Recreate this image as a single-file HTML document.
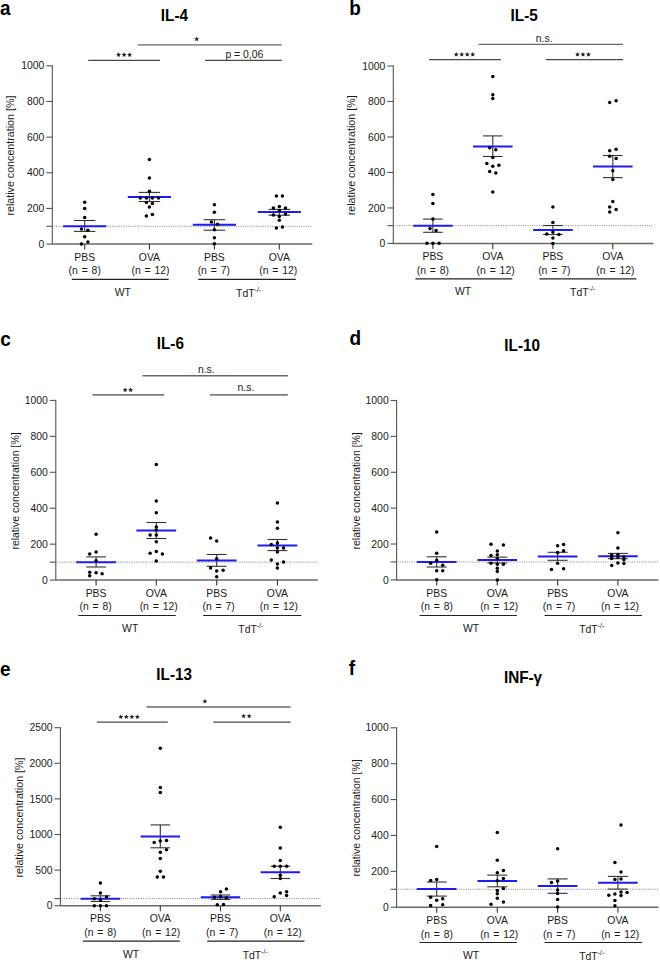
<!DOCTYPE html>
<html><head><meta charset="utf-8"><style>
html,body{margin:0;padding:0;background:#fff;}
body{width:660px;height:962px;overflow:hidden;}
svg{display:block;}
text{font-family:"Liberation Sans", sans-serif;fill:#1a1a1a;}
.let{font-size:19px;font-weight:bold;fill:#000;}
.tit{font-size:15.3px;font-weight:bold;fill:#000;}
.tk text{font-size:10.4px;}
.lb,.lb text{font-size:10.4px;}

.nn{font-size:10.4px;word-spacing:1px;}
</style></head><body>
<svg width="660" height="962" viewBox="0 0 660 962">
<rect width="660" height="962" fill="#fff"/>
<text class="let" transform="translate(0.09999999999999998,15.2) scale(1,1.09)">a</text>
<text class="tit" transform="translate(174.4,20.5) scale(1,1.03)" text-anchor="middle">IL-4</text>
<g stroke="#555555" stroke-width="1.1" fill="none">
<line x1="52.3" y1="65.3" x2="52.3" y2="244.1"/>
<line x1="51.8" y1="244.1" x2="312.3" y2="244.1" stroke-width="1.5" stroke="#6a6a6a"/>
<line x1="46.3" y1="244.10" x2="52.3" y2="244.10"/>
<line x1="46.3" y1="208.44" x2="52.3" y2="208.44"/>
<line x1="46.3" y1="172.78" x2="52.3" y2="172.78"/>
<line x1="46.3" y1="137.12" x2="52.3" y2="137.12"/>
<line x1="46.3" y1="101.46" x2="52.3" y2="101.46"/>
<line x1="46.3" y1="65.80" x2="52.3" y2="65.80"/>
<line x1="46.3" y1="226.27" x2="52.3" y2="226.27"/>
<line x1="84.7" y1="244.1" x2="84.7" y2="249.6" stroke="#333"/>
<line x1="149.4" y1="244.1" x2="149.4" y2="249.6" stroke="#333"/>
<line x1="214.4" y1="244.1" x2="214.4" y2="249.6" stroke="#333"/>
<line x1="279.3" y1="244.1" x2="279.3" y2="249.6" stroke="#333"/>
</g>
<g class="tk">
<text x="44.4" y="247.70" text-anchor="end">0</text>
<text x="44.4" y="212.04" text-anchor="end">200</text>
<text x="44.4" y="176.38" text-anchor="end">400</text>
<text x="44.4" y="140.72" text-anchor="end">600</text>
<text x="44.4" y="105.06" text-anchor="end">800</text>
<text x="44.4" y="69.40" text-anchor="end">1000</text>
</g>
<line x1="53.8" y1="226.27" x2="312.3" y2="226.27" stroke="#777" stroke-width="0.9" stroke-dasharray="1 1.25"/>
<text class="yl" font-size="10.7" transform="translate(13.9,155.6) rotate(-90)" text-anchor="middle">relative concentration [%]</text>
<g stroke="#333333" stroke-width="1.1"><line x1="84.7" y1="220.5" x2="84.7" y2="231.4"/><line x1="74.0" y1="220.5" x2="95.4" y2="220.5"/><line x1="74.0" y1="231.4" x2="95.4" y2="231.4"/></g>
<line x1="63.1" y1="226.3" x2="106.30000000000001" y2="226.3" stroke="#1c1cf5" stroke-width="2"/>
<g fill="#000"><circle cx="84.7" cy="202.2" r="1.75"/><circle cx="84.7" cy="208.6" r="1.75"/><circle cx="84.7" cy="217.4" r="1.75"/><circle cx="81.5" cy="229" r="1.75"/><circle cx="87.9" cy="230.3" r="1.75"/><circle cx="84.7" cy="236.7" r="1.75"/><circle cx="87.9" cy="242" r="1.75"/><circle cx="81.5" cy="244.1" r="1.75"/></g>
<g stroke="#333333" stroke-width="1.1"><line x1="149.4" y1="192.4" x2="149.4" y2="201.5"/><line x1="138.70000000000002" y1="192.4" x2="160.1" y2="192.4"/><line x1="138.70000000000002" y1="201.5" x2="160.1" y2="201.5"/></g>
<line x1="127.80000000000001" y1="197" x2="171.0" y2="197" stroke="#1c1cf5" stroke-width="2"/>
<g fill="#000"><circle cx="149.4" cy="159.4" r="1.75"/><circle cx="149.4" cy="177.9" r="1.75"/><circle cx="149.4" cy="191.2" r="1.75"/><circle cx="140.3" cy="197.9" r="1.75"/><circle cx="146.4" cy="197.9" r="1.75"/><circle cx="152.4" cy="197.9" r="1.75"/><circle cx="158.5" cy="197.9" r="1.75"/><circle cx="146.4" cy="202.4" r="1.75"/><circle cx="152.4" cy="203.6" r="1.75"/><circle cx="149.4" cy="206.9" r="1.75"/><circle cx="146.4" cy="216.1" r="1.75"/><circle cx="152.4" cy="214.4" r="1.75"/></g>
<g stroke="#333333" stroke-width="1.1"><line x1="214.4" y1="219.7" x2="214.4" y2="230.2"/><line x1="203.70000000000002" y1="219.7" x2="225.1" y2="219.7"/><line x1="203.70000000000002" y1="230.2" x2="225.1" y2="230.2"/></g>
<line x1="192.8" y1="224.8" x2="236.0" y2="224.8" stroke="#1c1cf5" stroke-width="2"/>
<g fill="#000"><circle cx="214.4" cy="204.8" r="1.75"/><circle cx="214.4" cy="212.3" r="1.75"/><circle cx="211.4" cy="222" r="1.75"/><circle cx="217.5" cy="224.3" r="1.75"/><circle cx="214.4" cy="229.7" r="1.75"/><circle cx="214.4" cy="237.7" r="1.75"/><circle cx="214.4" cy="243.8" r="1.75"/></g>
<g stroke="#333333" stroke-width="1.1"><line x1="279.3" y1="209.4" x2="279.3" y2="215.2"/><line x1="268.6" y1="209.4" x2="290.0" y2="209.4"/><line x1="268.6" y1="215.2" x2="290.0" y2="215.2"/></g>
<line x1="257.7" y1="212.1" x2="300.90000000000003" y2="212.1" stroke="#1c1cf5" stroke-width="2"/>
<g fill="#000"><circle cx="276.4" cy="196.1" r="1.75"/><circle cx="282.4" cy="196.1" r="1.75"/><circle cx="273.4" cy="207.9" r="1.75"/><circle cx="279.3" cy="206.5" r="1.75"/><circle cx="285.5" cy="207.9" r="1.75"/><circle cx="279.3" cy="210.6" r="1.75"/><circle cx="273.4" cy="215" r="1.75"/><circle cx="285.5" cy="213.9" r="1.75"/><circle cx="279.3" cy="216.4" r="1.75"/><circle cx="279.3" cy="220.3" r="1.75"/><circle cx="276.4" cy="227.9" r="1.75"/><circle cx="282.4" cy="227" r="1.75"/></g>
<g class="lb" text-anchor="middle">
<text x="84.7" y="260.7">PBS</text><text class="nn" x="84.7" y="274.4">(n = 8)</text>
<text x="149.4" y="260.7">OVA</text><text class="nn" x="150.5" y="274.4">(n = 12)</text>
<text x="214.4" y="260.7">PBS</text><text class="nn" x="213.8" y="274.4">(n = 7)</text>
<text x="279.3" y="260.7">OVA</text><text class="nn" x="278.3" y="274.4">(n = 12)</text>
</g>
<line x1="71.8" y1="279.3" x2="168.7" y2="279.3" stroke="#222" stroke-width="1.2"/>
<line x1="198.2" y1="279.3" x2="295.8" y2="279.3" stroke="#222" stroke-width="1.2"/>
<text class="lb" style="font-size:10.4px" x="114.7" y="295.7">WT</text>
<text class="lb" style="font-size:10.4px" x="236.1" y="296.8">TdT<tspan font-size="7" dy="-5">-/-</tspan></text>
<line x1="88.2" y1="60.4" x2="160" y2="60.4" stroke="#4a4a4a" stroke-width="1.2"/>
<g fill="#222"><polygon points="118.60,52.20 119.29,53.85 121.07,54.00 119.71,55.16 120.13,56.90 118.60,55.97 117.07,56.90 117.49,55.16 116.13,54.00 117.91,53.85"/><polygon points="124.10,52.20 124.79,53.85 126.57,54.00 125.21,55.16 125.63,56.90 124.10,55.97 122.57,56.90 122.99,55.16 121.63,54.00 123.41,53.85"/><polygon points="129.60,52.20 130.29,53.85 132.07,54.00 130.71,55.16 131.13,56.90 129.60,55.97 128.07,56.90 128.49,55.16 127.13,54.00 128.91,53.85"/></g>
<line x1="205.1" y1="60.4" x2="281.8" y2="60.4" stroke="#4a4a4a" stroke-width="1.2"/>
<text class="lb" x="244.3" y="57.6" text-anchor="middle">p = 0,06</text>
<line x1="137.8" y1="44.9" x2="281.8" y2="44.9" stroke="#6a6a6a" stroke-width="1.4"/>
<g fill="#222"><polygon points="196.70,36.50 197.39,38.15 199.17,38.30 197.81,39.46 198.23,41.20 196.70,40.27 195.17,41.20 195.59,39.46 194.23,38.30 196.01,38.15"/></g>
<text class="let" transform="translate(349.2,15.399999999999999) scale(1,1.09)">b</text>
<text class="tit" transform="translate(524.2,20.6) scale(1,1.03)" text-anchor="middle">IL-5</text>
<g stroke="#555555" stroke-width="1.1" fill="none">
<line x1="393.3" y1="65.5" x2="393.3" y2="243.4"/>
<line x1="392.8" y1="243.4" x2="653.3" y2="243.4" stroke-width="1.5" stroke="#6a6a6a"/>
<line x1="387.3" y1="243.40" x2="393.3" y2="243.40"/>
<line x1="387.3" y1="207.92" x2="393.3" y2="207.92"/>
<line x1="387.3" y1="172.44" x2="393.3" y2="172.44"/>
<line x1="387.3" y1="136.96" x2="393.3" y2="136.96"/>
<line x1="387.3" y1="101.48" x2="393.3" y2="101.48"/>
<line x1="387.3" y1="66.00" x2="393.3" y2="66.00"/>
<line x1="387.3" y1="225.66" x2="393.3" y2="225.66"/>
<line x1="432.9" y1="243.4" x2="432.9" y2="248.9" stroke="#333"/>
<line x1="492.8" y1="243.4" x2="492.8" y2="248.9" stroke="#333"/>
<line x1="552.9" y1="243.4" x2="552.9" y2="248.9" stroke="#333"/>
<line x1="612.8" y1="243.4" x2="612.8" y2="248.9" stroke="#333"/>
</g>
<g class="tk">
<text x="385.4" y="247.00" text-anchor="end">0</text>
<text x="385.4" y="211.52" text-anchor="end">200</text>
<text x="385.4" y="176.04" text-anchor="end">400</text>
<text x="385.4" y="140.56" text-anchor="end">600</text>
<text x="385.4" y="105.08" text-anchor="end">800</text>
<text x="385.4" y="69.60" text-anchor="end">1000</text>
</g>
<line x1="394.8" y1="225.66" x2="653.3" y2="225.66" stroke="#777" stroke-width="0.9" stroke-dasharray="1 1.25"/>
<text class="yl" font-size="10.7" transform="translate(355.0,155.35) rotate(-90)" text-anchor="middle">relative concentration [%]</text>
<g stroke="#333333" stroke-width="1.1"><line x1="432.9" y1="219.1" x2="432.9" y2="232.3"/><line x1="423.09999999999997" y1="219.1" x2="442.7" y2="219.1"/><line x1="423.09999999999997" y1="232.3" x2="442.7" y2="232.3"/></g>
<line x1="413.09999999999997" y1="225.8" x2="452.7" y2="225.8" stroke="#1c1cf5" stroke-width="2"/>
<g fill="#000"><circle cx="432.9" cy="194.4" r="1.75"/><circle cx="432.9" cy="203.5" r="1.75"/><circle cx="432.9" cy="219.1" r="1.75"/><circle cx="430" cy="228.5" r="1.75"/><circle cx="436.1" cy="230.5" r="1.75"/><circle cx="427" cy="243.3" r="1.75"/><circle cx="432.9" cy="243.3" r="1.75"/><circle cx="439.1" cy="243.3" r="1.75"/></g>
<g stroke="#333333" stroke-width="1.1"><line x1="492.8" y1="135.9" x2="492.8" y2="156.5"/><line x1="483.0" y1="135.9" x2="502.6" y2="135.9"/><line x1="483.0" y1="156.5" x2="502.6" y2="156.5"/></g>
<line x1="473.0" y1="146.4" x2="512.6" y2="146.4" stroke="#1c1cf5" stroke-width="2"/>
<g fill="#000"><circle cx="492.8" cy="76.4" r="1.75"/><circle cx="492.8" cy="94.7" r="1.75"/><circle cx="492.8" cy="98.6" r="1.75"/><circle cx="489.7" cy="147.7" r="1.75"/><circle cx="495.8" cy="149.7" r="1.75"/><circle cx="492.8" cy="157.6" r="1.75"/><circle cx="486.8" cy="163.6" r="1.75"/><circle cx="492.8" cy="166.2" r="1.75"/><circle cx="498.9" cy="165.3" r="1.75"/><circle cx="489.7" cy="171.4" r="1.75"/><circle cx="495.8" cy="173" r="1.75"/><circle cx="492.8" cy="191.9" r="1.75"/></g>
<g stroke="#333333" stroke-width="1.1"><line x1="552.9" y1="225.5" x2="552.9" y2="234.5"/><line x1="543.1" y1="225.5" x2="562.6999999999999" y2="225.5"/><line x1="543.1" y1="234.5" x2="562.6999999999999" y2="234.5"/></g>
<line x1="533.1" y1="230" x2="572.6999999999999" y2="230" stroke="#1c1cf5" stroke-width="2"/>
<g fill="#000"><circle cx="552.9" cy="207" r="1.75"/><circle cx="552.9" cy="222.5" r="1.75"/><circle cx="552.9" cy="232" r="1.75"/><circle cx="546.8" cy="234.1" r="1.75"/><circle cx="558.9" cy="234.4" r="1.75"/><circle cx="552.9" cy="237.9" r="1.75"/><circle cx="552.9" cy="243.6" r="1.75"/></g>
<g stroke="#333333" stroke-width="1.1"><line x1="612.8" y1="155.5" x2="612.8" y2="177.6"/><line x1="603.0" y1="155.5" x2="622.5999999999999" y2="155.5"/><line x1="603.0" y1="177.6" x2="622.5999999999999" y2="177.6"/></g>
<line x1="593.0" y1="166.6" x2="632.5999999999999" y2="166.6" stroke="#1c1cf5" stroke-width="2"/>
<g fill="#000"><circle cx="609.7" cy="102.6" r="1.75"/><circle cx="616.1" cy="100.8" r="1.75"/><circle cx="609.7" cy="150.8" r="1.75"/><circle cx="616.1" cy="149.2" r="1.75"/><circle cx="609.7" cy="156.2" r="1.75"/><circle cx="616.1" cy="158.6" r="1.75"/><circle cx="612.8" cy="170.8" r="1.75"/><circle cx="612.8" cy="179.5" r="1.75"/><circle cx="612.8" cy="201.5" r="1.75"/><circle cx="609.7" cy="206.9" r="1.75"/><circle cx="616.1" cy="209.6" r="1.75"/><circle cx="609.7" cy="212" r="1.75"/></g>
<g class="lb" text-anchor="middle">
<text x="432.9" y="260.0">PBS</text><text class="nn" x="432.9" y="273.7">(n = 8)</text>
<text x="492.8" y="260.0">OVA</text><text class="nn" x="495.6" y="273.7">(n = 12)</text>
<text x="552.9" y="260.0">PBS</text><text class="nn" x="554.3" y="273.7">(n = 7)</text>
<text x="612.8" y="260.0">OVA</text><text class="nn" x="615.4" y="273.7">(n = 12)</text>
</g>
<line x1="415.4" y1="278.8" x2="512.3" y2="278.8" stroke="#222" stroke-width="1.2"/>
<line x1="539.5" y1="278.8" x2="636.4" y2="278.8" stroke="#222" stroke-width="1.2"/>
<text class="lb" style="font-size:10.4px" x="454.9" y="295.2">WT</text>
<text class="lb" style="font-size:10.4px" x="570.1" y="296.3">TdT<tspan font-size="7" dy="-5">-/-</tspan></text>
<line x1="429.1" y1="59.6" x2="500.9" y2="59.6" stroke="#4a4a4a" stroke-width="1.2"/>
<g fill="#222"><polygon points="456.25,51.90 456.94,53.55 458.72,53.70 457.36,54.86 457.78,56.60 456.25,55.67 454.72,56.60 455.14,54.86 453.78,53.70 455.56,53.55"/><polygon points="461.75,51.90 462.44,53.55 464.22,53.70 462.86,54.86 463.28,56.60 461.75,55.67 460.22,56.60 460.64,54.86 459.28,53.70 461.06,53.55"/><polygon points="467.25,51.90 467.94,53.55 469.72,53.70 468.36,54.86 468.78,56.60 467.25,55.67 465.72,56.60 466.14,54.86 464.78,53.70 466.56,53.55"/><polygon points="472.75,51.90 473.44,53.55 475.22,53.70 473.86,54.86 474.28,56.60 472.75,55.67 471.22,56.60 471.64,54.86 470.28,53.70 472.06,53.55"/></g>
<line x1="545.8" y1="59.6" x2="623.1" y2="59.6" stroke="#4a4a4a" stroke-width="1.2"/>
<g fill="#222"><polygon points="577.50,51.90 578.19,53.55 579.97,53.70 578.61,54.86 579.03,56.60 577.50,55.67 575.97,56.60 576.39,54.86 575.03,53.70 576.81,53.55"/><polygon points="583.00,51.90 583.69,53.55 585.47,53.70 584.11,54.86 584.53,56.60 583.00,55.67 581.47,56.60 581.89,54.86 580.53,53.70 582.31,53.55"/><polygon points="588.50,51.90 589.19,53.55 590.97,53.70 589.61,54.86 590.03,56.60 588.50,55.67 586.97,56.60 587.39,54.86 586.03,53.70 587.81,53.55"/></g>
<line x1="478.7" y1="44.4" x2="623.1" y2="44.4" stroke="#6a6a6a" stroke-width="1.4"/>
<text class="lb" x="544.2" y="42" text-anchor="middle">n.s.</text>
<text class="let" transform="translate(0.19999999999999996,345.9) scale(1,1.09)">c</text>
<text class="tit" transform="translate(170.3,348.7) scale(1,1.03)" text-anchor="middle">IL-6</text>
<g stroke="#555555" stroke-width="1.1" fill="none">
<line x1="55.8" y1="399.9" x2="55.8" y2="580.1"/>
<line x1="55.3" y1="580.1" x2="317.8" y2="580.1" stroke-width="1.5" stroke="#6a6a6a"/>
<line x1="49.8" y1="580.10" x2="55.8" y2="580.10"/>
<line x1="49.8" y1="544.16" x2="55.8" y2="544.16"/>
<line x1="49.8" y1="508.22" x2="55.8" y2="508.22"/>
<line x1="49.8" y1="472.28" x2="55.8" y2="472.28"/>
<line x1="49.8" y1="436.34" x2="55.8" y2="436.34"/>
<line x1="49.8" y1="400.40" x2="55.8" y2="400.40"/>
<line x1="49.8" y1="562.13" x2="55.8" y2="562.13"/>
<line x1="96.1" y1="580.1" x2="96.1" y2="585.6" stroke="#333"/>
<line x1="156.3" y1="580.1" x2="156.3" y2="585.6" stroke="#333"/>
<line x1="216.7" y1="580.1" x2="216.7" y2="585.6" stroke="#333"/>
<line x1="277.4" y1="580.1" x2="277.4" y2="585.6" stroke="#333"/>
</g>
<g class="tk">
<text x="47.9" y="583.70" text-anchor="end">0</text>
<text x="47.9" y="547.76" text-anchor="end">200</text>
<text x="47.9" y="511.82" text-anchor="end">400</text>
<text x="47.9" y="475.88" text-anchor="end">600</text>
<text x="47.9" y="439.94" text-anchor="end">800</text>
<text x="47.9" y="404.00" text-anchor="end">1000</text>
</g>
<line x1="57.3" y1="562.13" x2="317.8" y2="562.13" stroke="#777" stroke-width="0.9" stroke-dasharray="1 1.25"/>
<text class="yl" font-size="10.45" transform="translate(18.6,490.95) rotate(-90)" text-anchor="middle">relative concentration [%]</text>
<g stroke="#333333" stroke-width="1.1"><line x1="96.1" y1="556.9" x2="96.1" y2="567"/><line x1="86.19999999999999" y1="556.9" x2="106.0" y2="556.9"/><line x1="86.19999999999999" y1="567" x2="106.0" y2="567"/></g>
<line x1="76.19999999999999" y1="562.2" x2="116.0" y2="562.2" stroke="#1c1cf5" stroke-width="2"/>
<g fill="#000"><circle cx="96.1" cy="534.3" r="1.75"/><circle cx="89.7" cy="554.1" r="1.75"/><circle cx="96.1" cy="552" r="1.75"/><circle cx="96.1" cy="560.8" r="1.75"/><circle cx="89.7" cy="572.3" r="1.75"/><circle cx="96.1" cy="572.8" r="1.75"/><circle cx="102.1" cy="573.8" r="1.75"/><circle cx="89.7" cy="575.7" r="1.75"/></g>
<g stroke="#333333" stroke-width="1.1"><line x1="156.3" y1="522.5" x2="156.3" y2="538.5"/><line x1="146.4" y1="522.5" x2="166.20000000000002" y2="522.5"/><line x1="146.4" y1="538.5" x2="166.20000000000002" y2="538.5"/></g>
<line x1="136.4" y1="530.5" x2="176.20000000000002" y2="530.5" stroke="#1c1cf5" stroke-width="2"/>
<g fill="#000"><circle cx="156.3" cy="464.4" r="1.75"/><circle cx="156.3" cy="501" r="1.75"/><circle cx="156.3" cy="512.7" r="1.75"/><circle cx="156.3" cy="526.9" r="1.75"/><circle cx="156.3" cy="529.9" r="1.75"/><circle cx="150.1" cy="535" r="1.75"/><circle cx="156.3" cy="535" r="1.75"/><circle cx="156.3" cy="541.7" r="1.75"/><circle cx="150.1" cy="553.3" r="1.75"/><circle cx="156.3" cy="551.4" r="1.75"/><circle cx="162.4" cy="554.1" r="1.75"/><circle cx="156.3" cy="561.1" r="1.75"/></g>
<g stroke="#333333" stroke-width="1.1"><line x1="216.7" y1="554.5" x2="216.7" y2="566.3"/><line x1="206.79999999999998" y1="554.5" x2="226.6" y2="554.5"/><line x1="206.79999999999998" y1="566.3" x2="226.6" y2="566.3"/></g>
<line x1="196.79999999999998" y1="560.4" x2="236.6" y2="560.4" stroke="#1c1cf5" stroke-width="2"/>
<g fill="#000"><circle cx="210.6" cy="538" r="1.75"/><circle cx="216.7" cy="541" r="1.75"/><circle cx="216.7" cy="558.7" r="1.75"/><circle cx="210.6" cy="568.1" r="1.75"/><circle cx="216.7" cy="570.9" r="1.75"/><circle cx="223.1" cy="570.2" r="1.75"/><circle cx="216.7" cy="576.8" r="1.75"/></g>
<g stroke="#333333" stroke-width="1.1"><line x1="277.4" y1="539.5" x2="277.4" y2="550.6"/><line x1="267.5" y1="539.5" x2="287.29999999999995" y2="539.5"/><line x1="267.5" y1="550.6" x2="287.29999999999995" y2="550.6"/></g>
<line x1="257.5" y1="545.4" x2="297.29999999999995" y2="545.4" stroke="#1c1cf5" stroke-width="2"/>
<g fill="#000"><circle cx="277.4" cy="502.9" r="1.75"/><circle cx="277.4" cy="522.1" r="1.75"/><circle cx="277.4" cy="528.3" r="1.75"/><circle cx="277.4" cy="543.1" r="1.75"/><circle cx="271.3" cy="544.6" r="1.75"/><circle cx="277.4" cy="548" r="1.75"/><circle cx="283.5" cy="548" r="1.75"/><circle cx="277.4" cy="552" r="1.75"/><circle cx="271.3" cy="560" r="1.75"/><circle cx="283.5" cy="562" r="1.75"/><circle cx="277.4" cy="564" r="1.75"/><circle cx="277.4" cy="568.1" r="1.75"/></g>
<g class="lb" text-anchor="middle">
<text x="96.1" y="596.7">PBS</text><text class="nn" x="95.6" y="610.4">(n = 8)</text>
<text x="156.3" y="596.7">OVA</text><text class="nn" x="158.7" y="610.4">(n = 12)</text>
<text x="216.7" y="596.7">PBS</text><text class="nn" x="218.6" y="610.4">(n = 7)</text>
<text x="277.4" y="596.7">OVA</text><text class="nn" x="278.9" y="610.4">(n = 12)</text>
</g>
<line x1="78.2" y1="615.5" x2="175.8" y2="615.5" stroke="#222" stroke-width="1.2"/>
<line x1="203.2" y1="615.5" x2="301.4" y2="615.5" stroke="#222" stroke-width="1.2"/>
<text class="lb" style="font-size:10.4px" x="122.10000000000001" y="631.9">WT</text>
<text class="lb" style="font-size:10.4px" x="238.29999999999998" y="633.0">TdT<tspan font-size="7" dy="-5">-/-</tspan></text>
<line x1="92.4" y1="394.9" x2="164" y2="394.9" stroke="#4a4a4a" stroke-width="1.2"/>
<g fill="#222"><polygon points="125.15,387.40 125.84,389.05 127.62,389.20 126.26,390.36 126.68,392.10 125.15,391.17 123.62,392.10 124.04,390.36 122.68,389.20 124.46,389.05"/><polygon points="130.65,387.40 131.34,389.05 133.12,389.20 131.76,390.36 132.18,392.10 130.65,391.17 129.12,392.10 129.54,390.36 128.18,389.20 129.96,389.05"/></g>
<line x1="210" y1="394.9" x2="287.8" y2="394.9" stroke="#4a4a4a" stroke-width="1.2"/>
<text class="lb" x="245.9" y="390.9" text-anchor="middle">n.s.</text>
<line x1="142.4" y1="375.8" x2="287.8" y2="375.8" stroke="#6a6a6a" stroke-width="1.4"/>
<text class="lb" x="206.3" y="373.2" text-anchor="middle">n.s.</text>
<text class="let" transform="translate(349.4,345.4) scale(1,1.09)">d</text>
<text class="tit" transform="translate(522.2,350.6) scale(1,1.03)" text-anchor="middle">IL-10</text>
<g stroke="#555555" stroke-width="1.1" fill="none">
<line x1="396.6" y1="400.0" x2="396.6" y2="579.9"/>
<line x1="396.1" y1="579.9" x2="658.4" y2="579.9" stroke-width="1.5" stroke="#6a6a6a"/>
<line x1="390.6" y1="579.90" x2="396.6" y2="579.90"/>
<line x1="390.6" y1="544.02" x2="396.6" y2="544.02"/>
<line x1="390.6" y1="508.14" x2="396.6" y2="508.14"/>
<line x1="390.6" y1="472.26" x2="396.6" y2="472.26"/>
<line x1="390.6" y1="436.38" x2="396.6" y2="436.38"/>
<line x1="390.6" y1="400.50" x2="396.6" y2="400.50"/>
<line x1="390.6" y1="561.96" x2="396.6" y2="561.96"/>
<line x1="436.7" y1="579.9" x2="436.7" y2="585.4" stroke="#333"/>
<line x1="497.3" y1="579.9" x2="497.3" y2="585.4" stroke="#333"/>
<line x1="557.6" y1="579.9" x2="557.6" y2="585.4" stroke="#333"/>
<line x1="617.9" y1="579.9" x2="617.9" y2="585.4" stroke="#333"/>
</g>
<g class="tk">
<text x="388.7" y="583.50" text-anchor="end">0</text>
<text x="388.7" y="547.62" text-anchor="end">200</text>
<text x="388.7" y="511.74" text-anchor="end">400</text>
<text x="388.7" y="475.86" text-anchor="end">600</text>
<text x="388.7" y="439.98" text-anchor="end">800</text>
<text x="388.7" y="404.10" text-anchor="end">1000</text>
</g>
<line x1="398.1" y1="561.96" x2="658.4" y2="561.96" stroke="#777" stroke-width="0.9" stroke-dasharray="1 1.25"/>
<text class="yl" font-size="10.45" transform="translate(359.8,490.85) rotate(-90)" text-anchor="middle">relative concentration [%]</text>
<g stroke="#333333" stroke-width="1.1"><line x1="436.7" y1="556.8" x2="436.7" y2="567"/><line x1="426.7" y1="556.8" x2="446.7" y2="556.8"/><line x1="426.7" y1="567" x2="446.7" y2="567"/></g>
<line x1="416.9" y1="562" x2="456.5" y2="562" stroke="#1c1cf5" stroke-width="2"/>
<g fill="#000"><circle cx="436.7" cy="532.1" r="1.75"/><circle cx="436.7" cy="553.3" r="1.75"/><circle cx="436.7" cy="560.2" r="1.75"/><circle cx="430.6" cy="563.2" r="1.75"/><circle cx="442.7" cy="565.2" r="1.75"/><circle cx="436.7" cy="570.8" r="1.75"/><circle cx="442.7" cy="570.8" r="1.75"/><circle cx="436.7" cy="579.8" r="1.75"/></g>
<g stroke="#333333" stroke-width="1.1"><line x1="497.3" y1="557.1" x2="497.3" y2="562.9"/><line x1="487.3" y1="557.1" x2="507.3" y2="557.1"/><line x1="487.3" y1="562.9" x2="507.3" y2="562.9"/></g>
<line x1="477.5" y1="560" x2="517.1" y2="560" stroke="#1c1cf5" stroke-width="2"/>
<g fill="#000"><circle cx="491" cy="544.2" r="1.75"/><circle cx="503.4" cy="545.1" r="1.75"/><circle cx="497.3" cy="551" r="1.75"/><circle cx="497.3" cy="554.8" r="1.75"/><circle cx="491" cy="555.5" r="1.75"/><circle cx="497.3" cy="558.4" r="1.75"/><circle cx="491" cy="563.3" r="1.75"/><circle cx="497.3" cy="564.3" r="1.75"/><circle cx="503.4" cy="564.3" r="1.75"/><circle cx="497.3" cy="568.2" r="1.75"/><circle cx="497.3" cy="571.6" r="1.75"/><circle cx="497.3" cy="579.9" r="1.75"/></g>
<g stroke="#333333" stroke-width="1.1"><line x1="557.6" y1="552.3" x2="557.6" y2="560.3"/><line x1="547.6" y1="552.3" x2="567.6" y2="552.3"/><line x1="547.6" y1="560.3" x2="567.6" y2="560.3"/></g>
<line x1="537.8000000000001" y1="556.6" x2="577.4" y2="556.6" stroke="#1c1cf5" stroke-width="2"/>
<g fill="#000"><circle cx="557.6" cy="545.8" r="1.75"/><circle cx="563.6" cy="544.6" r="1.75"/><circle cx="563.6" cy="550.8" r="1.75"/><circle cx="557.6" cy="552.6" r="1.75"/><circle cx="557.6" cy="563.3" r="1.75"/><circle cx="551.5" cy="569.6" r="1.75"/><circle cx="563.6" cy="568.8" r="1.75"/></g>
<g stroke="#333333" stroke-width="1.1"><line x1="617.9" y1="553.4" x2="617.9" y2="558.7"/><line x1="607.9" y1="553.4" x2="627.9" y2="553.4"/><line x1="607.9" y1="558.7" x2="627.9" y2="558.7"/></g>
<line x1="598.1" y1="556.3" x2="637.6999999999999" y2="556.3" stroke="#1c1cf5" stroke-width="2"/>
<g fill="#000"><circle cx="617.9" cy="532.7" r="1.75"/><circle cx="617.9" cy="548.1" r="1.75"/><circle cx="611.7" cy="554.8" r="1.75"/><circle cx="617.9" cy="554.5" r="1.75"/><circle cx="611.7" cy="556.6" r="1.75"/><circle cx="617.9" cy="557.1" r="1.75"/><circle cx="623.9" cy="556.9" r="1.75"/><circle cx="611.7" cy="558.4" r="1.75"/><circle cx="623.9" cy="559.8" r="1.75"/><circle cx="617.9" cy="562.9" r="1.75"/><circle cx="623.9" cy="563.5" r="1.75"/><circle cx="611.7" cy="565.6" r="1.75"/></g>
<g class="lb" text-anchor="middle">
<text x="436.7" y="596.5">PBS</text><text class="nn" x="436.9" y="610.2">(n = 8)</text>
<text x="497.3" y="596.5">OVA</text><text class="nn" x="499.2" y="610.2">(n = 12)</text>
<text x="557.6" y="596.5">PBS</text><text class="nn" x="559.0" y="610.2">(n = 7)</text>
<text x="617.9" y="596.5">OVA</text><text class="nn" x="620.0" y="610.2">(n = 12)</text>
</g>
<line x1="419.5" y1="615.5" x2="516.9" y2="615.5" stroke="#222" stroke-width="1.2"/>
<line x1="544.5" y1="615.5" x2="641.9" y2="615.5" stroke="#222" stroke-width="1.2"/>
<text class="lb" style="font-size:10.4px" x="462.9" y="631.9">WT</text>
<text class="lb" style="font-size:10.4px" x="579.2" y="633.0">TdT<tspan font-size="7" dy="-5">-/-</tspan></text>
<text class="let" transform="translate(-0.10000000000000009,676.4000000000001) scale(1,1.09)">e</text>
<text class="tit" transform="translate(174.2,679.6) scale(1,1.03)" text-anchor="middle">IL-13</text>
<g stroke="#555555" stroke-width="1.1" fill="none">
<line x1="60.4" y1="727.2" x2="60.4" y2="905.7"/>
<line x1="59.9" y1="905.7" x2="320.9" y2="905.7" stroke-width="1.5" stroke="#6a6a6a"/>
<line x1="54.4" y1="905.70" x2="60.4" y2="905.70"/>
<line x1="54.4" y1="870.10" x2="60.4" y2="870.10"/>
<line x1="54.4" y1="834.50" x2="60.4" y2="834.50"/>
<line x1="54.4" y1="798.90" x2="60.4" y2="798.90"/>
<line x1="54.4" y1="763.30" x2="60.4" y2="763.30"/>
<line x1="54.4" y1="727.70" x2="60.4" y2="727.70"/>
<line x1="54.4" y1="898.58" x2="60.4" y2="898.58"/>
<line x1="100.4" y1="905.7" x2="100.4" y2="911.2" stroke="#333"/>
<line x1="160.3" y1="905.7" x2="160.3" y2="911.2" stroke="#333"/>
<line x1="220.5" y1="905.7" x2="220.5" y2="911.2" stroke="#333"/>
<line x1="280.3" y1="905.7" x2="280.3" y2="911.2" stroke="#333"/>
</g>
<g class="tk">
<text x="52.5" y="909.30" text-anchor="end">0</text>
<text x="52.5" y="873.70" text-anchor="end">500</text>
<text x="52.5" y="838.10" text-anchor="end">1000</text>
<text x="52.5" y="802.50" text-anchor="end">1500</text>
<text x="52.5" y="766.90" text-anchor="end">2000</text>
<text x="52.5" y="731.30" text-anchor="end">2500</text>
</g>
<line x1="61.9" y1="898.58" x2="320.9" y2="898.58" stroke="#777" stroke-width="0.9" stroke-dasharray="1 1.25"/>
<text class="yl" font-size="10.7" transform="translate(22.6,817.5) rotate(-90)" text-anchor="middle">relative concentration [%]</text>
<g stroke="#333333" stroke-width="1.1"><line x1="100.4" y1="895.8" x2="100.4" y2="901.5"/><line x1="90.60000000000001" y1="895.8" x2="110.2" y2="895.8"/><line x1="90.60000000000001" y1="901.5" x2="110.2" y2="901.5"/></g>
<line x1="80.7" y1="898.75" x2="120.10000000000001" y2="898.75" stroke="#1c1cf5" stroke-width="2"/>
<g fill="#000"><circle cx="100.4" cy="882.9" r="1.75"/><circle cx="100.4" cy="892.9" r="1.75"/><circle cx="106.5" cy="897.1" r="1.75"/><circle cx="94.3" cy="898.75" r="1.75"/><circle cx="100.4" cy="900" r="1.75"/><circle cx="94.3" cy="905.8" r="1.75"/><circle cx="100.4" cy="905.8" r="1.75"/><circle cx="106.5" cy="905.8" r="1.75"/></g>
<g stroke="#333333" stroke-width="1.1"><line x1="160.3" y1="824.9" x2="160.3" y2="847.8"/><line x1="150.5" y1="824.9" x2="170.10000000000002" y2="824.9"/><line x1="150.5" y1="847.8" x2="170.10000000000002" y2="847.8"/></g>
<line x1="140.60000000000002" y1="836.4" x2="180.0" y2="836.4" stroke="#1c1cf5" stroke-width="2"/>
<g fill="#000"><circle cx="160.3" cy="748.2" r="1.75"/><circle cx="160.3" cy="787.4" r="1.75"/><circle cx="160.3" cy="792.4" r="1.75"/><circle cx="154.2" cy="842.5" r="1.75"/><circle cx="160.3" cy="841" r="1.75"/><circle cx="166.5" cy="840.4" r="1.75"/><circle cx="166.5" cy="849.8" r="1.75"/><circle cx="160.3" cy="852.3" r="1.75"/><circle cx="160.3" cy="858.4" r="1.75"/><circle cx="160.3" cy="871.3" r="1.75"/><circle cx="157.3" cy="877" r="1.75"/><circle cx="163.5" cy="877" r="1.75"/></g>
<g stroke="#333333" stroke-width="1.1"><line x1="220.5" y1="895" x2="220.5" y2="899.4"/><line x1="210.7" y1="895" x2="230.3" y2="895"/><line x1="210.7" y1="899.4" x2="230.3" y2="899.4"/></g>
<line x1="200.8" y1="897.3" x2="240.2" y2="897.3" stroke="#1c1cf5" stroke-width="2"/>
<g fill="#000"><circle cx="226.4" cy="888.9" r="1.75"/><circle cx="220.5" cy="891.8" r="1.75"/><circle cx="214.4" cy="897.3" r="1.75"/><circle cx="220.5" cy="896.4" r="1.75"/><circle cx="226.4" cy="897.7" r="1.75"/><circle cx="217.3" cy="904.7" r="1.75"/><circle cx="223.5" cy="904.5" r="1.75"/></g>
<g stroke="#333333" stroke-width="1.1"><line x1="280.3" y1="866.2" x2="280.3" y2="878.5"/><line x1="270.5" y1="866.2" x2="290.1" y2="866.2"/><line x1="270.5" y1="878.5" x2="290.1" y2="878.5"/></g>
<line x1="260.6" y1="872.2" x2="300.0" y2="872.2" stroke="#1c1cf5" stroke-width="2"/>
<g fill="#000"><circle cx="280.3" cy="827.2" r="1.75"/><circle cx="280.3" cy="847.9" r="1.75"/><circle cx="280.3" cy="860.5" r="1.75"/><circle cx="274.2" cy="866.2" r="1.75"/><circle cx="280.3" cy="866.2" r="1.75"/><circle cx="286.6" cy="866.2" r="1.75"/><circle cx="280.3" cy="875.3" r="1.75"/><circle cx="280.3" cy="878.6" r="1.75"/><circle cx="280.3" cy="893" r="1.75"/><circle cx="286.6" cy="891.7" r="1.75"/><circle cx="286.6" cy="895.5" r="1.75"/><circle cx="274.2" cy="896.8" r="1.75"/></g>
<g class="lb" text-anchor="middle">
<text x="100.4" y="922.3">PBS</text><text class="nn" x="100.4" y="936.0">(n = 8)</text>
<text x="160.3" y="922.3">OVA</text><text class="nn" x="161.1" y="936.0">(n = 12)</text>
<text x="220.5" y="922.3">PBS</text><text class="nn" x="222.1" y="936.0">(n = 7)</text>
<text x="280.3" y="922.3">OVA</text><text class="nn" x="282.8" y="936.0">(n = 12)</text>
</g>
<line x1="82.8" y1="941.2" x2="179.7" y2="941.2" stroke="#222" stroke-width="1.2"/>
<line x1="207.3" y1="941.2" x2="304.5" y2="941.2" stroke="#222" stroke-width="1.2"/>
<text class="lb" style="font-size:10.4px" x="122.9" y="957.6">WT</text>
<text class="lb" style="font-size:10.4px" x="242.7" y="958.7">TdT<tspan font-size="7" dy="-5">-/-</tspan></text>
<line x1="96.9" y1="722.2" x2="167.8" y2="722.2" stroke="#4a4a4a" stroke-width="1.2"/>
<g fill="#222"><polygon points="120.85,714.30 121.54,715.95 123.32,716.10 121.96,717.26 122.38,719.00 120.85,718.07 119.32,719.00 119.74,717.26 118.38,716.10 120.16,715.95"/><polygon points="126.35,714.30 127.04,715.95 128.82,716.10 127.46,717.26 127.88,719.00 126.35,718.07 124.82,719.00 125.24,717.26 123.88,716.10 125.66,715.95"/><polygon points="131.85,714.30 132.54,715.95 134.32,716.10 132.96,717.26 133.38,719.00 131.85,718.07 130.32,719.00 130.74,717.26 129.38,716.10 131.16,715.95"/><polygon points="137.35,714.30 138.04,715.95 139.82,716.10 138.46,717.26 138.88,719.00 137.35,718.07 135.82,719.00 136.24,717.26 134.88,716.10 136.66,715.95"/></g>
<line x1="213.3" y1="722.2" x2="290.5" y2="722.2" stroke="#4a4a4a" stroke-width="1.2"/>
<g fill="#222"><polygon points="243.65,713.60 244.34,715.25 246.12,715.40 244.76,716.56 245.18,718.30 243.65,717.37 242.12,718.30 242.54,716.56 241.18,715.40 242.96,715.25"/><polygon points="249.15,713.60 249.84,715.25 251.62,715.40 250.26,716.56 250.68,718.30 249.15,717.37 247.62,718.30 248.04,716.56 246.68,715.40 248.46,715.25"/></g>
<line x1="146.4" y1="707.0" x2="290.5" y2="707.0" stroke="#6a6a6a" stroke-width="1.4"/>
<g fill="#222"><polygon points="204.90,698.80 205.59,700.45 207.37,700.60 206.01,701.76 206.43,703.50 204.90,702.57 203.37,703.50 203.79,701.76 202.43,700.60 204.21,700.45"/></g>
<text class="let" transform="translate(348.7,675.4000000000001) scale(1,1.09)">f</text>
<text class="tit" transform="translate(523.0,682.8) scale(1,1.03)" text-anchor="middle">INF-γ</text>
<g stroke="#555555" stroke-width="1.1" fill="none">
<line x1="396.6" y1="727.3" x2="396.6" y2="907.2"/>
<line x1="396.1" y1="907.2" x2="658.4" y2="907.2" stroke-width="1.5" stroke="#6a6a6a"/>
<line x1="390.6" y1="907.20" x2="396.6" y2="907.20"/>
<line x1="390.6" y1="871.32" x2="396.6" y2="871.32"/>
<line x1="390.6" y1="835.44" x2="396.6" y2="835.44"/>
<line x1="390.6" y1="799.56" x2="396.6" y2="799.56"/>
<line x1="390.6" y1="763.68" x2="396.6" y2="763.68"/>
<line x1="390.6" y1="727.80" x2="396.6" y2="727.80"/>
<line x1="390.6" y1="889.26" x2="396.6" y2="889.26"/>
<line x1="436.7" y1="907.2" x2="436.7" y2="912.7" stroke="#333"/>
<line x1="497.3" y1="907.2" x2="497.3" y2="912.7" stroke="#333"/>
<line x1="557.6" y1="907.2" x2="557.6" y2="912.7" stroke="#333"/>
<line x1="617.9" y1="907.2" x2="617.9" y2="912.7" stroke="#333"/>
</g>
<g class="tk">
<text x="388.7" y="910.80" text-anchor="end">0</text>
<text x="388.7" y="874.92" text-anchor="end">200</text>
<text x="388.7" y="839.04" text-anchor="end">400</text>
<text x="388.7" y="803.16" text-anchor="end">600</text>
<text x="388.7" y="767.28" text-anchor="end">800</text>
<text x="388.7" y="731.40" text-anchor="end">1000</text>
</g>
<line x1="398.1" y1="889.26" x2="658.4" y2="889.26" stroke="#777" stroke-width="0.9" stroke-dasharray="1 1.25"/>
<text class="yl" font-size="10.45" transform="translate(359.7,817.95) rotate(-90)" text-anchor="middle">relative concentration [%]</text>
<g stroke="#333333" stroke-width="1.1"><line x1="436.7" y1="882" x2="436.7" y2="896.1"/><line x1="426.7" y1="882" x2="446.7" y2="882"/><line x1="426.7" y1="896.1" x2="446.7" y2="896.1"/></g>
<line x1="416.9" y1="888.9" x2="456.5" y2="888.9" stroke="#1c1cf5" stroke-width="2"/>
<g fill="#000"><circle cx="436.7" cy="846.5" r="1.75"/><circle cx="430.6" cy="880.5" r="1.75"/><circle cx="436.7" cy="879.4" r="1.75"/><circle cx="430.6" cy="897.3" r="1.75"/><circle cx="436.7" cy="900.3" r="1.75"/><circle cx="442.7" cy="898.8" r="1.75"/><circle cx="430.6" cy="905.5" r="1.75"/><circle cx="442.7" cy="904.8" r="1.75"/></g>
<g stroke="#333333" stroke-width="1.1"><line x1="497.3" y1="875.1" x2="497.3" y2="886.8"/><line x1="487.3" y1="875.1" x2="507.3" y2="875.1"/><line x1="487.3" y1="886.8" x2="507.3" y2="886.8"/></g>
<line x1="477.5" y1="881" x2="517.1" y2="881" stroke="#1c1cf5" stroke-width="2"/>
<g fill="#000"><circle cx="497.3" cy="832.5" r="1.75"/><circle cx="497.3" cy="860.3" r="1.75"/><circle cx="503.4" cy="870.4" r="1.75"/><circle cx="497.3" cy="872.7" r="1.75"/><circle cx="503.4" cy="878.6" r="1.75"/><circle cx="497.3" cy="880.7" r="1.75"/><circle cx="503.4" cy="888.4" r="1.75"/><circle cx="497.3" cy="890.5" r="1.75"/><circle cx="497.3" cy="893.7" r="1.75"/><circle cx="497.3" cy="898.3" r="1.75"/><circle cx="503.4" cy="902" r="1.75"/><circle cx="491" cy="904.3" r="1.75"/></g>
<g stroke="#333333" stroke-width="1.1"><line x1="557.6" y1="878.9" x2="557.6" y2="893.3"/><line x1="547.6" y1="878.9" x2="567.6" y2="878.9"/><line x1="547.6" y1="893.3" x2="567.6" y2="893.3"/></g>
<line x1="537.8000000000001" y1="886.1" x2="577.4" y2="886.1" stroke="#1c1cf5" stroke-width="2"/>
<g fill="#000"><circle cx="557.6" cy="848.7" r="1.75"/><circle cx="551.5" cy="882.4" r="1.75"/><circle cx="557.6" cy="881.1" r="1.75"/><circle cx="557.6" cy="890" r="1.75"/><circle cx="557.6" cy="893.6" r="1.75"/><circle cx="557.6" cy="899.4" r="1.75"/><circle cx="557.6" cy="907" r="1.75"/></g>
<g stroke="#333333" stroke-width="1.1"><line x1="617.9" y1="876.4" x2="617.9" y2="889.1"/><line x1="607.9" y1="876.4" x2="627.9" y2="876.4"/><line x1="607.9" y1="889.1" x2="627.9" y2="889.1"/></g>
<line x1="598.1" y1="882.8" x2="637.6999999999999" y2="882.8" stroke="#1c1cf5" stroke-width="2"/>
<g fill="#000"><circle cx="621" cy="825.1" r="1.75"/><circle cx="614.9" cy="862.6" r="1.75"/><circle cx="621" cy="872" r="1.75"/><circle cx="614.9" cy="879.4" r="1.75"/><circle cx="621" cy="878.9" r="1.75"/><circle cx="621" cy="892.1" r="1.75"/><circle cx="627.1" cy="892.4" r="1.75"/><circle cx="608.8" cy="895.3" r="1.75"/><circle cx="614.9" cy="893.9" r="1.75"/><circle cx="621" cy="895.5" r="1.75"/><circle cx="614.9" cy="900.4" r="1.75"/><circle cx="614.9" cy="905.7" r="1.75"/></g>
<g class="lb" text-anchor="middle">
<text x="436.7" y="923.8">PBS</text><text class="nn" x="436.9" y="937.5">(n = 8)</text>
<text x="497.3" y="923.8">OVA</text><text class="nn" x="499.2" y="937.5">(n = 12)</text>
<text x="557.6" y="923.8">PBS</text><text class="nn" x="559.2" y="937.5">(n = 7)</text>
<text x="617.9" y="923.8">OVA</text><text class="nn" x="620.2" y="937.5">(n = 12)</text>
</g>
<line x1="419.5" y1="942.5" x2="516.9" y2="942.5" stroke="#222" stroke-width="1.2"/>
<line x1="544.5" y1="942.5" x2="641.9" y2="942.5" stroke="#222" stroke-width="1.2"/>
<text class="lb" style="font-size:10.4px" x="462.9" y="958.9">WT</text>
<text class="lb" style="font-size:10.4px" x="579.2" y="960.0">TdT<tspan font-size="7" dy="-5">-/-</tspan></text>
</svg>
</body></html>
